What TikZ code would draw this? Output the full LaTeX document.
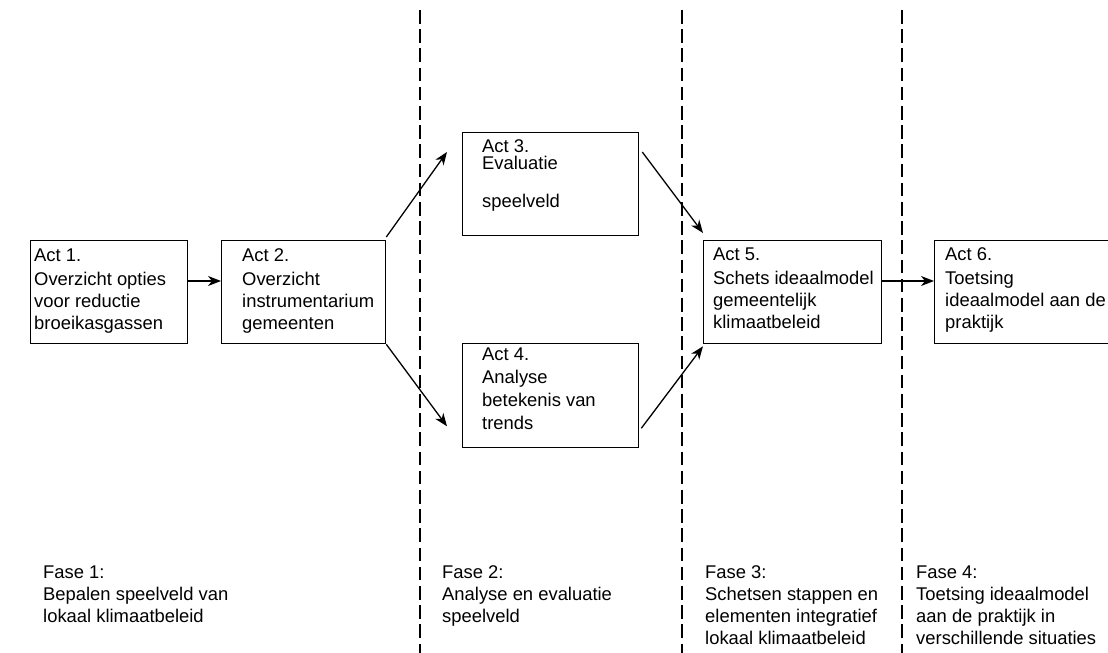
\documentclass[tikz,border=0pt]{standalone}
\usepackage{fontspec}
\setmainfont{Liberation Sans}
\usetikzlibrary{arrows.meta}
\begin{document}
\begin{tikzpicture}[x=1pt,y=-1pt,
  box/.style={draw,line width=1.3pt,inner sep=0pt,anchor=north west,rectangle},
  txt/.style={anchor=base west,inner sep=0pt,align=left,font=\fontsize{18.4}{22}\selectfont},
  conn/.style={line width=1.3pt,-{Stealth[length=13pt,width=10pt,inset=4pt]}},
  phase/.style={line width=2pt,dash pattern=on 13.5pt off 5.7pt}]
\clip (0,0) rectangle (1108,653);
% phase separators
\coordinate (d1t) at (420,10); \coordinate (d1b) at (420,660);
\coordinate (d2t) at (682,10); \coordinate (d2b) at (682,660);
\coordinate (d3t) at (902,10); \coordinate (d3b) at (902,660);
\draw[phase] (d1t) -- (d1b);
\draw[phase] (d2t) -- (d2b);
\draw[phase] (d3t) -- (d3b);
% boxes
\node[box,minimum width=157pt,minimum height=103pt] (b1) at (30,240) {};
\node[box,minimum width=164pt,minimum height=103pt] (b2) at (221,240) {};
\node[box,minimum width=176pt,minimum height=103pt] (b3) at (462,132) {};
\node[box,minimum width=176pt,minimum height=104pt] (b4) at (462,343) {};
\node[box,minimum width=178pt,minimum height=103pt] (b5) at (703,240) {};
\node[box,minimum width=200pt,minimum height=103pt] (b6) at (934,240) {};
% box texts (anchor = baseline of last line)
\node[txt] (t1) at (34,329) {Act 1.\\[2pt]Overzicht opties\\voor reductie\\broeikasgassen};
\node[txt] (t2) at (242,329) {Act 2.\\[2pt]Overzicht\\instrumentarium\\gemeenten};
\node[txt,font=\fontsize{18.4}{17}\selectfont] (t3) at (482,207) {Act 3.\\Evaluatie\\[21pt]speelveld};
\node[txt,font=\fontsize{18.4}{23}\selectfont] (t4) at (482,429) {Act 4.\\Analyse\\betekenis van\\trends};
\node[txt] (t5) at (713,328) {Act 5.\\[2pt]Schets ideaalmodel\\gemeentelijk\\klimaatbeleid};
\node[txt] (t6) at (945,328) {Act 6.\\[2pt]Toetsing\\ideaalmodel aan de\\praktijk};
% connectors
\draw[conn] ([yshift=-41pt]b1.north east) -- ([yshift=-41pt]b2.north west);
\draw[conn] ([yshift=3pt]b2.north east) -- ([xshift=-15pt,yshift=-20pt]b3.north west);
\draw[conn] ([yshift=0pt]b2.south east) -- ([xshift=-15pt,yshift=22pt]b4.south west);
\draw[conn] ([xshift=3pt,yshift=-20pt]b3.north east) -- ([yshift=7pt]b5.north west);
\draw[conn] ([xshift=2pt,yshift=20pt]b4.south east) -- ([yshift=-2pt]b5.south west);
\draw[conn] ([yshift=-41pt]b5.north east) -- ([yshift=-41pt]b6.north west);
% phase texts (anchor = baseline of last line)
\node[txt] (f1) at (43,622) {Fase 1:\\Bepalen speelveld van\\lokaal klimaatbeleid};
\node[txt] (f2) at (442,622) {Fase 2:\\Analyse en evaluatie\\speelveld};
\node[txt] (f3) at (705,644) {Fase 3:\\Schetsen stappen en\\elementen integratief\\lokaal klimaatbeleid};
\node[txt] (f4) at (916,644) {Fase 4:\\Toetsing ideaalmodel\\aan de praktijk in\\verschillende situaties};
\end{tikzpicture}
\end{document}
